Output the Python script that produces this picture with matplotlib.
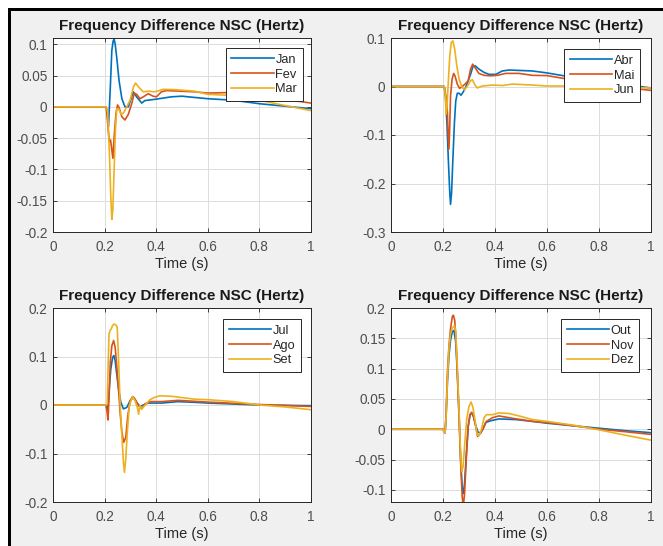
import numpy as np
import matplotlib
matplotlib.use("Agg")
import matplotlib.pyplot as plt
from matplotlib.patches import Rectangle
from matplotlib.ticker import FuncFormatter

plt.rcParams['font.family'] = ['Liberation Sans', 'DejaVu Sans']
plt.rcParams['axes.unicode_minus'] = False

# ---- dados (tempo em s, diferenca de frequencia em Hz) ----
# Jan / Fev / Mar
jan_t = [0, 0.205, 0.209, 0.215, 0.222, 0.228, 0.233, 0.237, 0.241, 0.247, 0.256, 0.267, 0.279,
         0.292, 0.305, 0.311, 0.324, 0.344, 0.356, 0.395, 0.459, 0.5, 0.549, 0.6, 0.7, 0.8, 0.9, 1.0]
jan_f = [0, 0, -0.005, -0.032, 0.03, 0.09, 0.105, 0.108, 0.1, 0.079, 0.042, 0.013, 0.0,
         0.0, 0.016, 0.024, 0.016, 0.006, 0.01, 0.012, 0.016, 0.017, 0.015, 0.013, 0.0105, 0.005, 0.001, -0.003]

fev_t = [0, 0.206, 0.21, 0.215, 0.219, 0.223, 0.228, 0.232, 0.237, 0.244, 0.25, 0.256, 0.267, 0.279,
         0.292, 0.305, 0.315, 0.324, 0.337, 0.35, 0.369, 0.388, 0.401, 0.42, 0.44, 0.549, 0.6, 0.7, 0.8, 0.9, 1.0]
fev_f = [0, 0, -0.016, -0.042, -0.056, -0.053, -0.069, -0.082, -0.048, -0.011, 0.003, -0.001, -0.016, -0.021,
         -0.012, 0.005, 0.022, 0.02, 0.013, 0.016, 0.021, 0.017, 0.016, 0.024, 0.026, 0.024, 0.022, 0.023, 0.018, 0.012, 0.006]

mar_t = [0, 0.206, 0.212, 0.215, 0.22, 0.224, 0.228, 0.232, 0.237, 0.242, 0.247, 0.254, 0.264, 0.273,
         0.286, 0.299, 0.312, 0.32, 0.331, 0.35, 0.369, 0.395, 0.427, 0.472, 0.549, 0.6, 0.7, 0.8, 0.9, 1.0]
mar_f = [0, 0, -0.008, -0.037, -0.09, -0.143, -0.18, -0.164, -0.1, -0.037, -0.003, -0.003, -0.012, -0.01,
         0.0, 0.011, 0.032, 0.038, 0.032, 0.024, 0.025, 0.024, 0.028, 0.0275, 0.025, 0.02, 0.018, 0.0105, 0.002, -0.006]

# Abr / Mai / Jun
abr_t = [0, 0.204, 0.206, 0.21, 0.215, 0.221, 0.226, 0.229, 0.233, 0.238, 0.244, 0.249, 0.255, 0.262,
         0.269, 0.278, 0.287, 0.297, 0.306, 0.315, 0.323, 0.338, 0.358, 0.377, 0.403, 0.428, 0.454, 0.544,
         0.6, 0.66, 0.8, 0.9, 1.0]
abr_f = [0, 0, -0.0055, -0.023, -0.074, -0.157, -0.219, -0.243, -0.219, -0.15, -0.074, -0.03, -0.014, -0.014,
         -0.018, -0.011, -0.002, 0.012, 0.025, 0.041, 0.043, 0.036, 0.029, 0.025, 0.025, 0.032, 0.034, 0.032,
         0.028, 0.0225, 0.012, 0.004, -0.003]

mai_t = [0, 0.205, 0.208, 0.213, 0.217, 0.219, 0.223, 0.226, 0.229, 0.235, 0.241, 0.246, 0.255, 0.264,
         0.274, 0.287, 0.297, 0.306, 0.314, 0.323, 0.338, 0.358, 0.383, 0.409, 0.441, 0.492, 0.544,
         0.6, 0.66, 0.8, 0.9, 1.0]
mai_f = [0, 0, -0.009, -0.026, -0.054, -0.088, -0.129, -0.081, -0.019, 0.015, 0.027, 0.022, 0.005, -0.004,
         0.0, 0.006, 0.012, 0.036, 0.046, 0.039, 0.027, 0.023, 0.022, 0.023, 0.027, 0.027, 0.023,
         0.0225, 0.017, 0.006, -0.002, -0.008]

jun_t = [0, 0.204, 0.208, 0.212, 0.215, 0.221, 0.226, 0.232, 0.238, 0.245, 0.253, 0.262, 0.272, 0.282,
         0.294, 0.306, 0.313, 0.323, 0.332, 0.351, 0.39, 0.428, 0.467, 0.505, 0.544, 0.6, 0.66, 1.0]
jun_f = [0, 0, -0.012, -0.057, -0.043, 0.015, 0.063, 0.091, 0.094, 0.077, 0.043, 0.015, 0.0, -0.007,
         0.001, 0.012, 0.014, 0.003, -0.003, 0.001, 0.003, 0.002, 0.005, 0.004, 0.003, 0.001, 0.001, -0.003]

# Jul / Ago / Set
jul_t = [0, 0.206, 0.209, 0.213, 0.218, 0.224, 0.231, 0.236, 0.241, 0.247, 0.254, 0.263, 0.273, 0.286,
         0.299, 0.312, 0.324, 0.337, 0.35, 0.369, 0.421, 0.485, 0.549, 0.6, 0.8, 1.0]
jul_f = [0, 0, -0.01, -0.001, 0.033, 0.074, 0.098, 0.102, 0.091, 0.064, 0.033, 0.0055, -0.008, -0.005,
         0.009, 0.016, 0.0055, -0.003, 0.0, 0.004, 0.004, 0.007, 0.0055, 0.004, 0.0, -0.0014]

ago_t = [0, 0.206, 0.209, 0.213, 0.217, 0.222, 0.228, 0.235, 0.241, 0.247, 0.254, 0.26, 0.267, 0.274,
         0.282, 0.29, 0.299, 0.309, 0.318, 0.331, 0.344, 0.356, 0.376, 0.421, 0.485, 0.549, 0.6, 0.8, 1.0]
ago_f = [0, 0, -0.012, -0.031, 0.012, 0.088, 0.122, 0.133, 0.119, 0.081, 0.033, -0.015, -0.056, -0.077,
         -0.067, -0.022, 0.009, 0.017, 0.012, -0.001, -0.008, 0.002, 0.007, 0.007, 0.0096, 0.0076, 0.006, 0.001, -0.003]

set_t = [0, 0.207, 0.21, 0.213, 0.217, 0.222, 0.226, 0.231, 0.237, 0.244, 0.249, 0.254, 0.26, 0.267,
         0.273, 0.277, 0.282, 0.288, 0.296, 0.308, 0.318, 0.327, 0.332, 0.337, 0.344, 0.356, 0.376,
         0.395, 0.414, 0.459, 0.549, 0.6, 0.7, 0.8, 0.9, 1.0]
set_f = [0, 0, 0.002, 0.067, 0.146, 0.155, 0.157, 0.164, 0.167, 0.165, 0.16, 0.095, 0.0055, -0.063,
         -0.118, -0.139, -0.111, -0.056, -0.001, 0.018, 0.009, -0.005, -0.019, -0.001, -0.008, -0.001, 0.011,
         0.016, 0.019, 0.018, 0.012, 0.011, 0.007, 0.0, -0.004, -0.0097]

# Out / Nov / Dez
out_t = [0, 0.2, 0.203, 0.208, 0.212, 0.217, 0.223, 0.229, 0.236, 0.242, 0.249, 0.255, 0.262, 0.268,
         0.274, 0.278, 0.283, 0.29, 0.297, 0.304, 0.31, 0.317, 0.326, 0.335, 0.345, 0.354, 0.364, 0.383,
         0.415, 0.479, 0.544, 0.6, 0.7, 0.8, 0.9, 1.0]
out_f = [0, 0, -0.003, -0.006, 0.022, 0.077, 0.122, 0.147, 0.161, 0.163, 0.144, 0.094, 0.022, -0.051,
         -0.098, -0.106, -0.089, -0.039, 0.005, 0.024, 0.027, 0.021, 0.006, -0.005, -0.006, 0.0006, 0.011, 0.014,
         0.017, 0.016, 0.013, 0.010, 0.0057, 0.0017, -0.0023, -0.0057]

nov_t = [0, 0.2, 0.203, 0.208, 0.212, 0.217, 0.223, 0.229, 0.236, 0.24, 0.245, 0.25, 0.255, 0.262,
         0.268, 0.274, 0.278, 0.283, 0.29, 0.297, 0.304, 0.31, 0.317, 0.326, 0.333, 0.345, 0.355, 0.367,
         0.39, 0.415, 0.454, 0.544, 0.6, 0.7, 0.8, 0.9, 1.0]
nov_f = [0, 0, -0.003, -0.006, 0.027, 0.094, 0.138, 0.166, 0.186, 0.188, 0.18, 0.149, 0.094, 0.016,
         -0.056, -0.112, -0.128, -0.106, -0.045, 0.005, 0.024, 0.028, 0.022, 0.005, -0.012, -0.006, 0.002, 0.013,
         0.019, 0.022, 0.019, 0.013, 0.011, 0.006, 0.0, -0.004, -0.0085]

dez_t = [0, 0.2, 0.203, 0.208, 0.212, 0.217, 0.223, 0.229, 0.236, 0.244, 0.249, 0.255, 0.262, 0.268,
         0.272, 0.277, 0.283, 0.291, 0.3, 0.308, 0.315, 0.323, 0.331, 0.338, 0.347, 0.358, 0.367, 0.39,
         0.415, 0.454, 0.492, 0.544, 0.6, 0.7, 0.8, 0.9, 1.0]
dez_f = [0, 0, -0.003, -0.006, 0.02, 0.083, 0.133, 0.158, 0.167, 0.171, 0.161, 0.105, 0.027, -0.045,
         -0.07, -0.062, -0.028, 0.016, 0.038, 0.045, 0.036, 0.016, -0.009, -0.011, -0.0017, 0.019, 0.024, 0.024,
         0.027, 0.026, 0.022, 0.016, 0.013, 0.0068, -0.001, -0.0097, -0.018]

# limites e ticks de cada subplot
ylim_1 = (-0.2, 0.11)
ylim_2 = (-0.3, 0.1)
ylim_3 = (-0.2, 0.2)
ylim_4 = (-0.12, 0.2)
yticks_1 = [-0.2, -0.15, -0.1, -0.05, 0, 0.05, 0.1]
yticks_2 = [-0.3, -0.2, -0.1, 0, 0.1]
yticks_3 = [-0.2, -0.1, 0, 0.1, 0.2]
yticks_4 = [-0.1, -0.05, 0, 0.05, 0.1, 0.15, 0.2]
xticks = [0, 0.2, 0.4, 0.6, 0.8, 1]

CORES = ['#0072BD', '#D95319', '#EDB120']
W, H = 663, 546


def fmt(v, pos):
    s = f"{v:g}"
    return "0" if s in ("-0", "0") else s


def cria_eixo(fig, left, top, right, bottom):
    # posicoes em pixels (origem no canto superior esquerdo)
    return fig.add_axes([left / W, 1 - bottom / H, (right - left) / W, (bottom - top) / H])


def desenha(ax, series, nomes, ylim, yticks, leg_dx, leg_dy):
    for (t, f), nome, cor in zip(series, nomes, CORES):
        ax.plot(t, f, color=cor, lw=1.2, label=nome)
    ax.set_xlim(0, 1)
    ax.set_ylim(*ylim)
    ax.set_xticks(xticks)
    ax.set_yticks(yticks)
    ax.xaxis.set_major_formatter(FuncFormatter(fmt))
    ax.yaxis.set_major_formatter(FuncFormatter(fmt))
    ax.set_facecolor('white')
    ax.grid(True, color='#dcdcdc', lw=0.7)
    ax.set_axisbelow(True)
    for sp in ax.spines.values():
        sp.set_color('#262626')
        sp.set_linewidth(0.7)
    ax.tick_params(direction='in', top=True, right=True, length=3, width=0.6,
                   color='#262626', labelcolor='#4d4d4d', labelsize=9.8)
    ax.tick_params(axis='x', pad=6)
    ax.tick_params(axis='y', pad=4)
    ax.set_title('Frequency Difference NSC (Hertz)', fontsize=11, fontweight='bold',
                 color='#1a1a1a', pad=6)
    ax.set_xlabel('Time (s)', fontsize=10.5, color='#262626', labelpad=2)
    w = ax.bbox.width
    h = ax.bbox.height
    leg = ax.legend(loc='upper right', bbox_to_anchor=(1 - leg_dx / w, 1 - leg_dy / h),
                    borderaxespad=0, fontsize=9.2, handlelength=3.3, handletextpad=0.15,
                    labelspacing=0.22, borderpad=0.45, fancybox=False, framealpha=1,
                    edgecolor='#262626')
    leg.get_frame().set_linewidth(0.7)
    for txt in leg.get_texts():
        txt.set_color('#262626')


fig = plt.figure(figsize=(W / 100, H / 100), dpi=100, facecolor='#f0f0f0')

ax1 = cria_eixo(fig, 53, 38, 311, 232)
ax2 = cria_eixo(fig, 391, 38, 651, 232)
ax3 = cria_eixo(fig, 53, 308, 311, 502)
ax4 = cria_eixo(fig, 391, 308, 651, 502)

desenha(ax1, [(jan_t, jan_f), (fev_t, fev_f), (mar_t, mar_f)], ['Jan', 'Fev', 'Mar'],
        ylim_1, yticks_1, 8, 10)
desenha(ax2, [(abr_t, abr_f), (mai_t, mai_f), (jun_t, jun_f)], ['Abr', 'Mai', 'Jun'],
        ylim_2, yticks_2, 11, 11)
desenha(ax3, [(jul_t, jul_f), (ago_t, ago_f), (set_t, set_f)], ['Jul', 'Ago', 'Set'],
        ylim_3, yticks_3, 10, 11)
desenha(ax4, [(out_t, out_f), (nov_t, nov_f), (dez_t, dez_f)], ['Out', 'Nov', 'Dez'],
        ylim_4, yticks_4, 12, 11)

# moldura da captura de tela (branco fora, linha preta no topo e a esquerda)
fig.add_artist(Rectangle((0, 1 - 8 / H), 1, 8 / H, transform=fig.transFigure,
                         facecolor='white', edgecolor='none'))
fig.add_artist(Rectangle((0, 0), 8 / W, 1, transform=fig.transFigure,
                         facecolor='white', edgecolor='none'))
fig.add_artist(Rectangle((8 / W, 1 - 11 / H), 1, 3 / H, transform=fig.transFigure,
                         facecolor='black', edgecolor='none'))
fig.add_artist(Rectangle((8 / W, 0), 3 / W, 1 - 8 / H, transform=fig.transFigure,
                         facecolor='black', edgecolor='none'))

fig.savefig('out.png', dpi=100, facecolor=fig.get_facecolor())
